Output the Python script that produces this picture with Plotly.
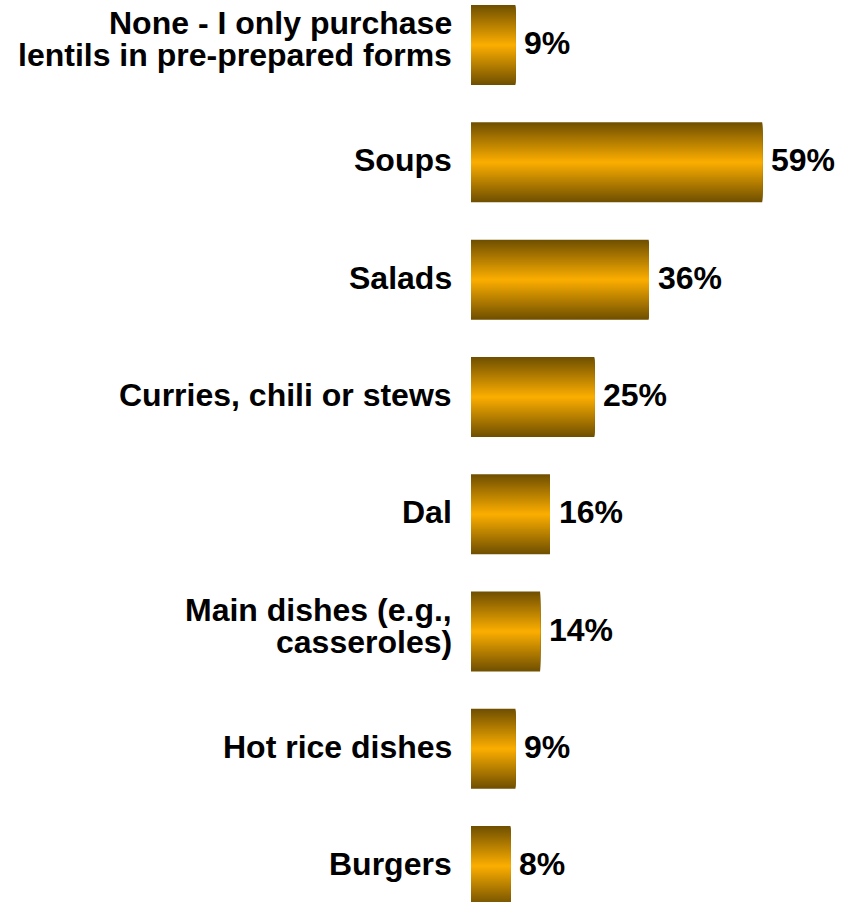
import plotly.graph_objects as go

# Survey results: how lentils are used at home
categories = [
    "None - I only purchase\nlentils in pre-prepared forms",
    "Soups",
    "Salads",
    "Curries, chili or stews",
    "Dal",
    "Main dishes (e.g.,\ncasseroles)",
    "Hot rice dishes",
    "Burgers",
]
values = [9, 59, 36, 25, 16, 14, 9, 8]

DARK = (112, 80, 0)
BRIGHT = (250, 173, 0)
BAR_WIDTH = 0.682
LAYERS = 40
FONT = "Liberation Sans, Arial, sans-serif"
FONT_SIZE = 32

fig = go.Figure()

# Vertical gradient: stacked overlays of narrowing bars, dark at the edges,
# bright amber in the middle.
for k in range(LAYERS):
    s = k / (LAYERS - 1)
    c = tuple(round(d + (b - d) * s) for d, b in zip(DARK, BRIGHT))
    fig.add_trace(go.Bar(
        x=values,
        y=categories,
        orientation="h",
        width=BAR_WIDTH * (1 - k / LAYERS),
        marker=dict(color=f"rgb{c}", line=dict(width=0)),
        hoverinfo="skip",
        showlegend=False,
    ))

annotations = []
# Category labels to the left of the bars (wrapped lines set tightly)
line_offsets = {1: [2], 2: [22, -10]}
for cat in categories:
    lines = cat.split("\n")
    for line, dy in zip(lines, line_offsets[len(lines)]):
        annotations.append(dict(
            x=0, y=cat, xref="x", yref="y",
            text=line, showarrow=False,
            xanchor="right", yanchor="middle",
            xshift=-17, yshift=dy,
            font=dict(family=FONT, size=FONT_SIZE, color="black", weight="bold"),
        ))
# Value labels to the right of the bars
for cat, v in zip(categories, values):
    annotations.append(dict(
        x=v, y=cat, xref="x", yref="y",
        text=f"{v}%", showarrow=False,
        xanchor="left", yanchor="middle",
        xshift=7, yshift=2,
        font=dict(family=FONT, size=FONT_SIZE, color="black", weight="bold"),
    ))

fig.update_layout(
    width=856, height=902,
    margin=dict(l=471, r=0, t=0, b=0),
    barmode="overlay",
    plot_bgcolor="white",
    paper_bgcolor="white",
    annotations=annotations,
    xaxis=dict(range=[0, 78], visible=False, fixedrange=True),
    yaxis=dict(
        type="category",
        categoryorder="array",
        categoryarray=categories,
        range=[7.306, -0.384],
        visible=False,
        fixedrange=True,
    ),
)

fig.write_html("out.html", config={"displayModeBar": False})
